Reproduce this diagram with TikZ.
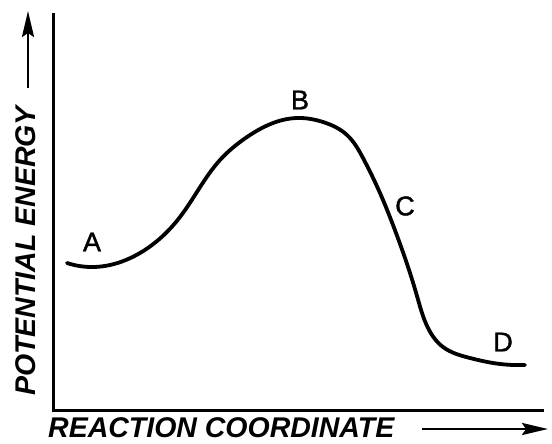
\documentclass[tikz,border=0pt]{standalone}
\usepackage{fontspec}
\setmainfont{Liberation Sans}
\newfontfamily\lblfont[FakeBold=1.5]{Liberation Sans}
\usetikzlibrary{arrows.meta,hobby}
\begin{document}
\begin{tikzpicture}[x=1pt,y=-1pt,
  axis/.style={line width=3pt},
  curve/.style={line width=3.8pt, line cap=round},
  ptlabel/.style={font=\lblfont\fontsize{27}{27}\selectfont, inner sep=0pt},
  axlabel/.style={font=\fontsize{28.5}{28.5}\selectfont\bfseries\itshape, inner sep=0pt},
  arr/.style={line width=2.6pt, -{Stealth[length=26pt,width=12pt,inset=4pt]}}]
\useasboundingbox (0,0) rectangle (552,444);
\coordinate (top) at (53,13);
\coordinate (corner) at (53,410);
\coordinate (right) at (544,410);
\draw[axis] (top) -- (corner) -- (right);
\draw[curve, use Hobby shortcut] (67,263) .. (93,267) .. (140,253) .. (180,217)
  .. (220,160) .. (247,137) .. (297,118) .. (323,122) .. (347,135) .. (363,158)
  .. (380,193) .. (393,225) .. (405,258) .. (417,296) .. (428,328) .. (443,347)
  .. (470,358) .. (493,363) .. (525,365);
\node[ptlabel] (A) at (92,242) {A};
\node[ptlabel] (B) at (300,100) {B};
\node[ptlabel] (C) at (405,206) {C};
\node[ptlabel] (D) at (503,342) {D};
\node[axlabel, rotate=90, anchor=center] (pe) at (26,251) {POTENTIAL ENERGY};
\coordinate (pea) at (28,88);
\coordinate (peb) at (28,11);
\draw[arr] (pea) -- (peb);
\node[axlabel, anchor=west] (rc) at (48,428) {REACTION COORDINATE};
\coordinate (rca) at (422,429);
\coordinate (rcb) at (548,429);
\draw[arr] (rca) -- (rcb);
\end{tikzpicture}
\end{document}
